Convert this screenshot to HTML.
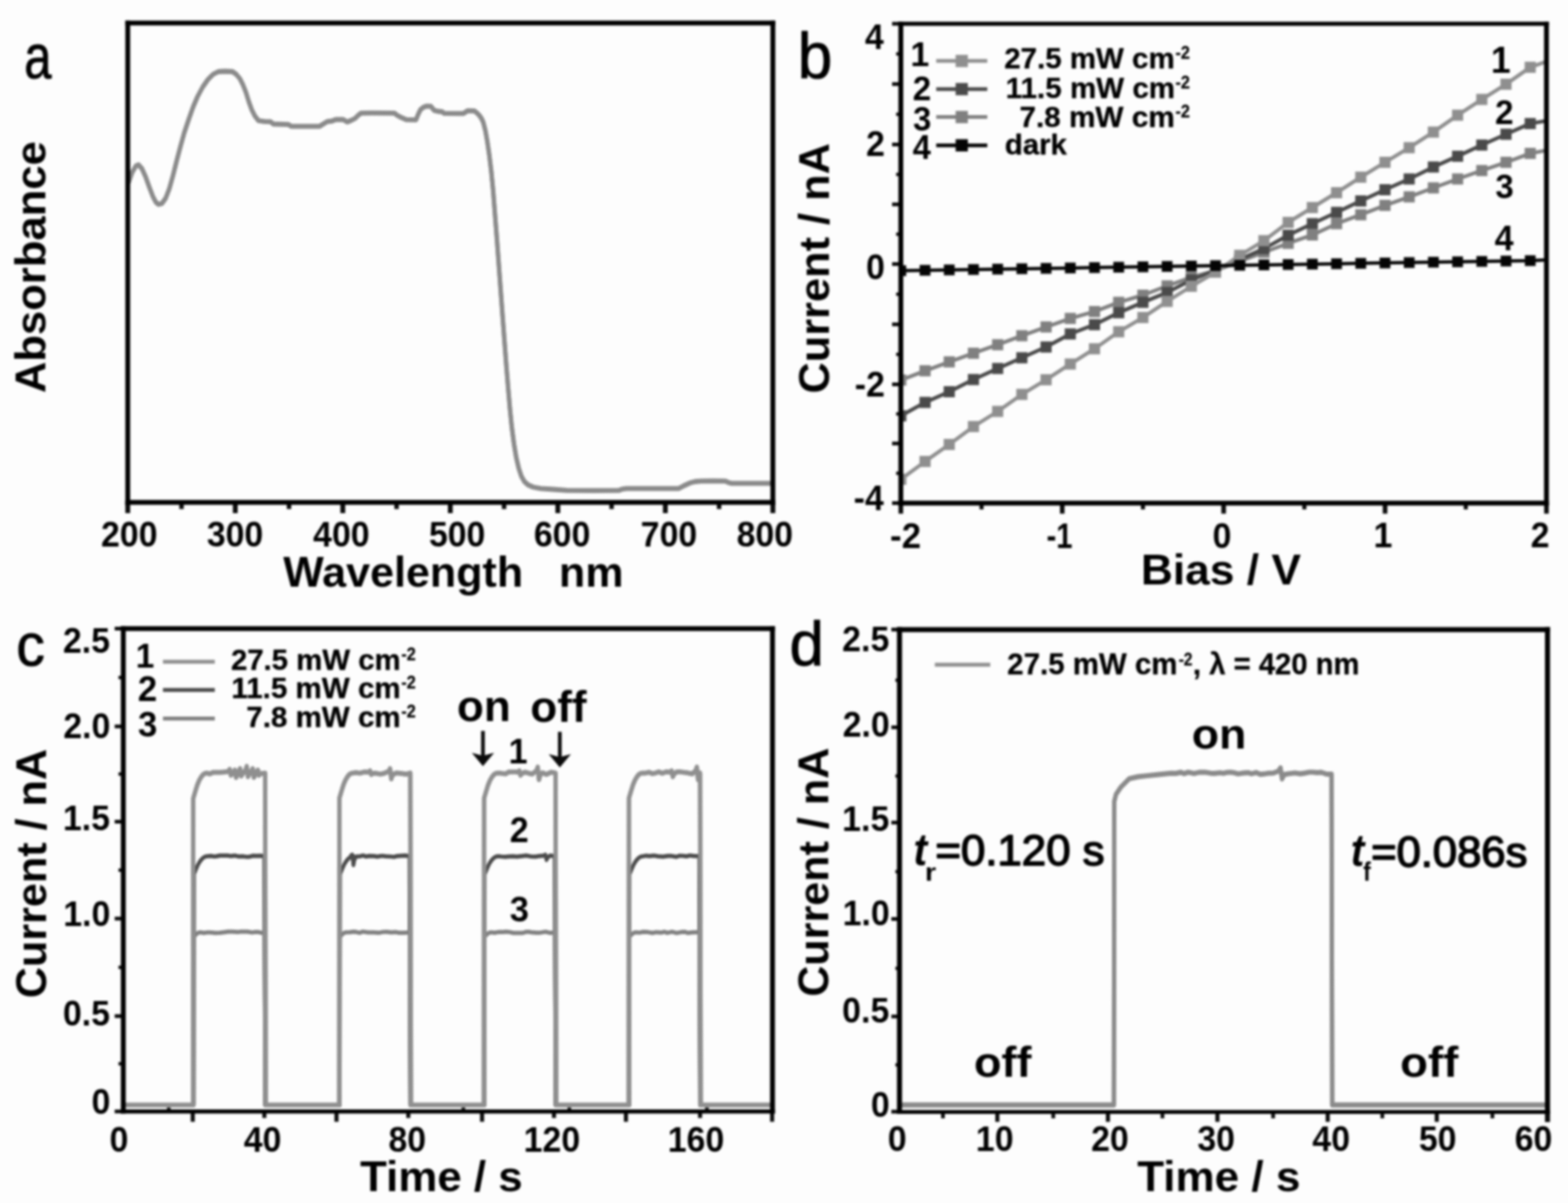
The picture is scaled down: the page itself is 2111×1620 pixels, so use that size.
<!DOCTYPE html>
<html lang="en">
<head>
<meta charset="utf-8">
<title>Figure: absorbance and photocurrent response</title>
<style>
html,body{margin:0;padding:0;background:#fdfdfd;}
body{width:2111px;height:1620px;overflow:hidden;}
svg{display:block;font-family:"Liberation Sans",sans-serif;}
svg text{white-space:pre;}
</style>
</head>
<body>
<svg width="2111" height="1620" viewBox="0 0 2111 1620">
<defs><filter id="soft" x="-2%" y="-2%" width="104%" height="104%" color-interpolation-filters="sRGB"><feGaussianBlur stdDeviation="1.4"/></filter></defs>
<rect x="0" y="0" width="2111" height="1620" fill="#fdfdfd"/>
<g filter="url(#soft)">
<g id="panel-a">
<line x1="172.00" y1="676.50" x2="172.00" y2="691.00" stroke="#0a0a0a" stroke-width="6.50" stroke-linecap="butt"/>
<line x1="316.75" y1="676.50" x2="316.75" y2="691.00" stroke="#0a0a0a" stroke-width="6.50" stroke-linecap="butt"/>
<line x1="461.50" y1="676.50" x2="461.50" y2="691.00" stroke="#0a0a0a" stroke-width="6.50" stroke-linecap="butt"/>
<line x1="606.25" y1="676.50" x2="606.25" y2="691.00" stroke="#0a0a0a" stroke-width="6.50" stroke-linecap="butt"/>
<line x1="751.00" y1="676.50" x2="751.00" y2="691.00" stroke="#0a0a0a" stroke-width="6.50" stroke-linecap="butt"/>
<line x1="895.75" y1="676.50" x2="895.75" y2="691.00" stroke="#0a0a0a" stroke-width="6.50" stroke-linecap="butt"/>
<line x1="1040.50" y1="676.50" x2="1040.50" y2="691.00" stroke="#0a0a0a" stroke-width="6.50" stroke-linecap="butt"/>
<line x1="244.38" y1="676.50" x2="244.38" y2="685.50" stroke="#0a0a0a" stroke-width="6.00" stroke-linecap="butt"/>
<line x1="389.12" y1="676.50" x2="389.12" y2="685.50" stroke="#0a0a0a" stroke-width="6.00" stroke-linecap="butt"/>
<line x1="533.88" y1="676.50" x2="533.88" y2="685.50" stroke="#0a0a0a" stroke-width="6.00" stroke-linecap="butt"/>
<line x1="678.62" y1="676.50" x2="678.62" y2="685.50" stroke="#0a0a0a" stroke-width="6.00" stroke-linecap="butt"/>
<line x1="823.38" y1="676.50" x2="823.38" y2="685.50" stroke="#0a0a0a" stroke-width="6.00" stroke-linecap="butt"/>
<line x1="968.12" y1="676.50" x2="968.12" y2="685.50" stroke="#0a0a0a" stroke-width="6.00" stroke-linecap="butt"/>
<polyline transform="translate(0 -0.50)" points="173.0,246.0 178.0,232.0 183.0,223.5 186.5,222.0 191.0,227.0 196.0,238.0 201.0,252.0 206.0,265.0 210.0,272.5 213.4,275.2 218.0,274.0 223.0,267.0 228.0,254.0 233.0,236.0 238.0,216.0 243.0,197.0 248.0,179.0 254.0,161.0 260.0,144.0 266.0,130.0 273.0,117.0 280.0,107.0 287.0,100.0 294.0,96.5 303.0,96.0 313.0,96.5 318.0,100.0 323.0,106.0 327.0,114.0 331.0,124.0 335.0,137.0 339.0,148.0 343.0,156.0 348.0,162.5 356.0,163.6 364.0,163.8 368.0,167.0 388.0,167.6 392.0,170.0 430.0,170.2 436.0,166.5 441.0,163.6 447.0,163.0 452.0,161.0 462.0,161.0 467.5,164.2 473.0,162.0 478.0,159.5 482.0,155.5 486.0,152.4 500.0,152.2 531.0,152.4 535.0,155.5 539.5,157.8 547.0,161.2 560.0,161.3 563.0,154.0 566.0,147.8 570.0,144.5 574.0,143.0 580.0,143.2 584.5,148.6 590.0,150.0 595.0,150.4 598.0,152.6 624.0,152.8 629.5,149.2 638.8,149.4 642.0,152.0 645.4,155.5 648.5,160.0 650.7,165.0 653.5,176.0 656.0,190.0 658.7,208.5 661.3,229.8 664.0,257.6 666.5,290.0 669.0,322.0 671.5,356.0 674.0,390.0 676.5,424.0 679.0,457.0 681.5,490.0 684.0,521.0 686.5,550.0 689.0,575.0 692.0,598.0 695.0,616.0 698.5,631.0 702.0,641.5 706.0,648.5 711.0,653.0 718.0,656.0 728.1,657.8 745.0,659.0 763.2,660.3 800.0,660.6 833.5,660.3 838.0,658.6 843.6,657.8 880.0,657.8 913.9,657.8 921.0,654.0 929.0,650.3 936.0,648.5 944.0,647.8 960.0,647.6 976.7,647.8 980.0,649.5 984.2,650.8 1010.0,650.8 1039.4,650.8" fill="none" stroke="#8a8a8a" stroke-width="5.80" stroke-linejoin="round" stroke-linecap="butt"/>
<polyline transform="translate(0 0.50)" points="173.0,246.0 178.0,232.0 183.0,223.5 186.5,222.0 191.0,227.0 196.0,238.0 201.0,252.0 206.0,265.0 210.0,272.5 213.4,275.2 218.0,274.0 223.0,267.0 228.0,254.0 233.0,236.0 238.0,216.0 243.0,197.0 248.0,179.0 254.0,161.0 260.0,144.0 266.0,130.0 273.0,117.0 280.0,107.0 287.0,100.0 294.0,96.5 303.0,96.0 313.0,96.5 318.0,100.0 323.0,106.0 327.0,114.0 331.0,124.0 335.0,137.0 339.0,148.0 343.0,156.0 348.0,162.5 356.0,163.6 364.0,163.8 368.0,167.0 388.0,167.6 392.0,170.0 430.0,170.2 436.0,166.5 441.0,163.6 447.0,163.0 452.0,161.0 462.0,161.0 467.5,164.2 473.0,162.0 478.0,159.5 482.0,155.5 486.0,152.4 500.0,152.2 531.0,152.4 535.0,155.5 539.5,157.8 547.0,161.2 560.0,161.3 563.0,154.0 566.0,147.8 570.0,144.5 574.0,143.0 580.0,143.2 584.5,148.6 590.0,150.0 595.0,150.4 598.0,152.6 624.0,152.8 629.5,149.2 638.8,149.4 642.0,152.0 645.4,155.5 648.5,160.0 650.7,165.0 653.5,176.0 656.0,190.0 658.7,208.5 661.3,229.8 664.0,257.6 666.5,290.0 669.0,322.0 671.5,356.0 674.0,390.0 676.5,424.0 679.0,457.0 681.5,490.0 684.0,521.0 686.5,550.0 689.0,575.0 692.0,598.0 695.0,616.0 698.5,631.0 702.0,641.5 706.0,648.5 711.0,653.0 718.0,656.0 728.1,657.8 745.0,659.0 763.2,660.3 800.0,660.6 833.5,660.3 838.0,658.6 843.6,657.8 880.0,657.8 913.9,657.8 921.0,654.0 929.0,650.3 936.0,648.5 944.0,647.8 960.0,647.6 976.7,647.8 980.0,649.5 984.2,650.8 1010.0,650.8 1039.4,650.8" fill="none" stroke="#8a8a8a" stroke-width="5.80" stroke-linejoin="round" stroke-linecap="butt"/>
<line x1="168.75" y1="31.00" x2="1043.75" y2="31.00" stroke="#000" stroke-width="6.50" stroke-linecap="butt"/>
<line x1="168.75" y1="676.50" x2="1043.75" y2="676.50" stroke="#000" stroke-width="6.50" stroke-linecap="butt"/>
<line x1="172.00" y1="27.75" x2="172.00" y2="679.75" stroke="#000" stroke-width="6.50" stroke-linecap="butt"/>
<line x1="1040.50" y1="27.75" x2="1040.50" y2="679.75" stroke="#000" stroke-width="6.50" stroke-linecap="butt"/>
<text transform="translate(136.00 735.60) scale(0.9500 1)" style="font-size:48.00px;font-weight:700" fill="#000">200</text>
<text transform="translate(278.38 735.60) scale(0.9500 1)" style="font-size:48.00px;font-weight:700" fill="#000">300</text>
<text transform="translate(421.55 735.60) scale(0.9500 1)" style="font-size:48.00px;font-weight:700" fill="#000">400</text>
<text transform="translate(577.41 735.60) scale(0.9500 1)" style="font-size:48.00px;font-weight:700" fill="#000">500</text>
<text transform="translate(718.74 735.60) scale(0.9500 1)" style="font-size:48.00px;font-weight:700" fill="#000">600</text>
<text transform="translate(862.62 735.60) scale(0.9500 1)" style="font-size:48.00px;font-weight:700" fill="#000">700</text>
<text transform="translate(991.65 735.60) scale(0.9500 1)" style="font-size:48.00px;font-weight:700" fill="#000">800</text>
<text transform="translate(381.30 789.50) scale(0.9990 1)" style="font-size:58.00px;font-weight:700" fill="#000">Wavelength   nm</text>
<text transform="translate(60.50 529.37) rotate(-90) scale(1.0122 1)" style="font-size:58.00px;font-weight:700" fill="#000">Absorbance</text>
<text transform="translate(32.81 104.67) scale(0.7950 1)" style="font-size:82.56px;font-weight:400" fill="#000" stroke="#000" stroke-width="1.20" stroke-linejoin="round">a</text>
</g>
<g id="panel-b">
<line x1="1201.00" y1="32.00" x2="1212.80" y2="32.00" stroke="#0a0a0a" stroke-width="5.00" stroke-linecap="butt"/>
<line x1="1201.00" y1="113.20" x2="1212.80" y2="113.20" stroke="#0a0a0a" stroke-width="5.00" stroke-linecap="butt"/>
<line x1="1201.00" y1="194.60" x2="1212.80" y2="194.60" stroke="#0a0a0a" stroke-width="5.00" stroke-linecap="butt"/>
<line x1="1201.00" y1="275.20" x2="1212.80" y2="275.20" stroke="#0a0a0a" stroke-width="5.00" stroke-linecap="butt"/>
<line x1="1201.00" y1="355.60" x2="1212.80" y2="355.60" stroke="#0a0a0a" stroke-width="5.00" stroke-linecap="butt"/>
<line x1="1201.00" y1="436.80" x2="1212.80" y2="436.80" stroke="#0a0a0a" stroke-width="5.00" stroke-linecap="butt"/>
<line x1="1201.00" y1="517.60" x2="1212.80" y2="517.60" stroke="#0a0a0a" stroke-width="5.00" stroke-linecap="butt"/>
<line x1="1201.00" y1="597.20" x2="1212.80" y2="597.20" stroke="#0a0a0a" stroke-width="5.00" stroke-linecap="butt"/>
<line x1="1201.00" y1="677.50" x2="1212.80" y2="677.50" stroke="#0a0a0a" stroke-width="5.00" stroke-linecap="butt"/>
<line x1="1206.50" y1="637.35" x2="1212.80" y2="637.35" stroke="#0a0a0a" stroke-width="4.50" stroke-linecap="butt"/>
<line x1="1206.50" y1="557.40" x2="1212.80" y2="557.40" stroke="#0a0a0a" stroke-width="4.50" stroke-linecap="butt"/>
<line x1="1206.50" y1="477.20" x2="1212.80" y2="477.20" stroke="#0a0a0a" stroke-width="4.50" stroke-linecap="butt"/>
<line x1="1206.50" y1="396.20" x2="1212.80" y2="396.20" stroke="#0a0a0a" stroke-width="4.50" stroke-linecap="butt"/>
<line x1="1206.50" y1="315.40" x2="1212.80" y2="315.40" stroke="#0a0a0a" stroke-width="4.50" stroke-linecap="butt"/>
<line x1="1206.50" y1="234.90" x2="1212.80" y2="234.90" stroke="#0a0a0a" stroke-width="4.50" stroke-linecap="butt"/>
<line x1="1206.50" y1="153.90" x2="1212.80" y2="153.90" stroke="#0a0a0a" stroke-width="4.50" stroke-linecap="butt"/>
<line x1="1206.50" y1="72.60" x2="1212.80" y2="72.60" stroke="#0a0a0a" stroke-width="4.50" stroke-linecap="butt"/>
<line x1="1212.80" y1="677.50" x2="1212.80" y2="691.70" stroke="#0a0a0a" stroke-width="6.20" stroke-linecap="butt"/>
<line x1="1430.10" y1="677.50" x2="1430.10" y2="691.70" stroke="#0a0a0a" stroke-width="6.20" stroke-linecap="butt"/>
<line x1="1647.40" y1="677.50" x2="1647.40" y2="691.70" stroke="#0a0a0a" stroke-width="6.20" stroke-linecap="butt"/>
<line x1="1864.70" y1="677.50" x2="1864.70" y2="691.70" stroke="#0a0a0a" stroke-width="6.20" stroke-linecap="butt"/>
<line x1="2082.00" y1="677.50" x2="2082.00" y2="691.70" stroke="#0a0a0a" stroke-width="6.20" stroke-linecap="butt"/>
<line x1="1321.45" y1="677.50" x2="1321.45" y2="686.00" stroke="#0a0a0a" stroke-width="5.50" stroke-linecap="butt"/>
<line x1="1538.75" y1="677.50" x2="1538.75" y2="686.00" stroke="#0a0a0a" stroke-width="5.50" stroke-linecap="butt"/>
<line x1="1756.05" y1="677.50" x2="1756.05" y2="686.00" stroke="#0a0a0a" stroke-width="5.50" stroke-linecap="butt"/>
<line x1="1973.35" y1="677.50" x2="1973.35" y2="686.00" stroke="#0a0a0a" stroke-width="5.50" stroke-linecap="butt"/>
<clipPath id="clipb"><rect x="1212.8" y="32.0" width="869.2" height="645.5"/></clipPath><g clip-path="url(#clipb)">
<polyline points="1212.8,511.8 1245.4,499.3 1278.0,487.3 1310.6,475.7 1343.2,464.2 1375.8,452.1 1408.3,440.3 1440.9,428.8 1473.5,419.6 1506.1,407.1 1538.7,397.5 1571.3,385.0 1603.9,373.4 1636.5,364.5 1669.1,352.0 1701.7,339.7 1734.2,327.7 1766.8,316.4 1799.4,301.2 1832.0,289.2 1864.6,276.6 1897.2,265.1 1929.8,253.0 1962.4,241.0 1995.0,229.7 2027.6,218.6 2060.1,206.6 2082.0,202.5" fill="none" stroke="#808080" stroke-width="5.00" stroke-linejoin="round" stroke-linecap="butt"/>
<rect x="1205.30" y="504.30" width="15.00" height="15.00" fill="#808080"/>
<rect x="1237.89" y="491.80" width="15.00" height="15.00" fill="#808080"/>
<rect x="1270.48" y="479.80" width="15.00" height="15.00" fill="#808080"/>
<rect x="1303.07" y="468.20" width="15.00" height="15.00" fill="#808080"/>
<rect x="1335.66" y="456.70" width="15.00" height="15.00" fill="#808080"/>
<rect x="1368.25" y="444.60" width="15.00" height="15.00" fill="#808080"/>
<rect x="1400.84" y="432.80" width="15.00" height="15.00" fill="#808080"/>
<rect x="1433.43" y="421.30" width="15.00" height="15.00" fill="#808080"/>
<rect x="1466.02" y="412.10" width="15.00" height="15.00" fill="#808080"/>
<rect x="1498.61" y="399.60" width="15.00" height="15.00" fill="#808080"/>
<rect x="1531.20" y="390.00" width="15.00" height="15.00" fill="#808080"/>
<rect x="1563.79" y="377.50" width="15.00" height="15.00" fill="#808080"/>
<rect x="1596.38" y="365.90" width="15.00" height="15.00" fill="#808080"/>
<rect x="1628.97" y="357.00" width="15.00" height="15.00" fill="#808080"/>
<rect x="1661.56" y="344.50" width="15.00" height="15.00" fill="#808080"/>
<rect x="1694.15" y="332.20" width="15.00" height="15.00" fill="#808080"/>
<rect x="1726.74" y="320.20" width="15.00" height="15.00" fill="#808080"/>
<rect x="1759.33" y="308.90" width="15.00" height="15.00" fill="#808080"/>
<rect x="1791.92" y="293.70" width="15.00" height="15.00" fill="#808080"/>
<rect x="1824.51" y="281.70" width="15.00" height="15.00" fill="#808080"/>
<rect x="1857.10" y="269.10" width="15.00" height="15.00" fill="#808080"/>
<rect x="1889.69" y="257.60" width="15.00" height="15.00" fill="#808080"/>
<rect x="1922.28" y="245.50" width="15.00" height="15.00" fill="#808080"/>
<rect x="1954.87" y="233.50" width="15.00" height="15.00" fill="#808080"/>
<rect x="1987.46" y="222.20" width="15.00" height="15.00" fill="#808080"/>
<rect x="2020.05" y="211.10" width="15.00" height="15.00" fill="#808080"/>
<rect x="2052.64" y="199.10" width="15.00" height="15.00" fill="#808080"/>
<polyline points="1212.8,560.0 1245.4,541.9 1278.0,527.5 1310.6,511.1 1343.2,496.2 1375.8,481.8 1408.3,467.3 1440.9,449.7 1473.5,437.2 1506.1,421.1 1538.7,407.1 1571.3,393.9 1603.9,377.0 1636.5,363.8 1669.1,349.5 1701.7,334.9 1734.2,316.8 1766.8,301.2 1799.4,286.0 1832.0,270.6 1864.6,255.5 1897.2,241.0 1929.8,224.9 1962.4,210.4 1995.0,195.3 2027.6,180.8 2060.1,166.4 2082.0,162.8" fill="none" stroke="#4a4a4a" stroke-width="5.00" stroke-linejoin="round" stroke-linecap="butt"/>
<rect x="1205.30" y="552.50" width="15.00" height="15.00" fill="#4a4a4a"/>
<rect x="1237.89" y="534.40" width="15.00" height="15.00" fill="#4a4a4a"/>
<rect x="1270.48" y="520.00" width="15.00" height="15.00" fill="#4a4a4a"/>
<rect x="1303.07" y="503.60" width="15.00" height="15.00" fill="#4a4a4a"/>
<rect x="1335.66" y="488.70" width="15.00" height="15.00" fill="#4a4a4a"/>
<rect x="1368.25" y="474.30" width="15.00" height="15.00" fill="#4a4a4a"/>
<rect x="1400.84" y="459.80" width="15.00" height="15.00" fill="#4a4a4a"/>
<rect x="1433.43" y="442.20" width="15.00" height="15.00" fill="#4a4a4a"/>
<rect x="1466.02" y="429.70" width="15.00" height="15.00" fill="#4a4a4a"/>
<rect x="1498.61" y="413.60" width="15.00" height="15.00" fill="#4a4a4a"/>
<rect x="1531.20" y="399.60" width="15.00" height="15.00" fill="#4a4a4a"/>
<rect x="1563.79" y="386.40" width="15.00" height="15.00" fill="#4a4a4a"/>
<rect x="1596.38" y="369.50" width="15.00" height="15.00" fill="#4a4a4a"/>
<rect x="1628.97" y="356.30" width="15.00" height="15.00" fill="#4a4a4a"/>
<rect x="1661.56" y="342.00" width="15.00" height="15.00" fill="#4a4a4a"/>
<rect x="1694.15" y="327.40" width="15.00" height="15.00" fill="#4a4a4a"/>
<rect x="1726.74" y="309.30" width="15.00" height="15.00" fill="#4a4a4a"/>
<rect x="1759.33" y="293.70" width="15.00" height="15.00" fill="#4a4a4a"/>
<rect x="1791.92" y="278.50" width="15.00" height="15.00" fill="#4a4a4a"/>
<rect x="1824.51" y="263.10" width="15.00" height="15.00" fill="#4a4a4a"/>
<rect x="1857.10" y="248.00" width="15.00" height="15.00" fill="#4a4a4a"/>
<rect x="1889.69" y="233.50" width="15.00" height="15.00" fill="#4a4a4a"/>
<rect x="1922.28" y="217.40" width="15.00" height="15.00" fill="#4a4a4a"/>
<rect x="1954.87" y="202.90" width="15.00" height="15.00" fill="#4a4a4a"/>
<rect x="1987.46" y="187.80" width="15.00" height="15.00" fill="#4a4a4a"/>
<rect x="2020.05" y="173.30" width="15.00" height="15.00" fill="#4a4a4a"/>
<rect x="2052.64" y="158.90" width="15.00" height="15.00" fill="#4a4a4a"/>
<polyline points="1212.8,645.4 1245.4,621.4 1278.0,598.5 1310.6,574.4 1343.2,554.0 1375.8,531.1 1408.3,511.4 1440.9,490.2 1473.5,469.7 1506.1,446.8 1538.7,427.6 1571.3,405.9 1603.9,385.5 1636.5,366.5 1669.1,343.8 1701.7,324.1 1734.2,299.5 1766.8,279.5 1799.4,259.5 1832.0,238.6 1864.6,218.6 1897.2,198.9 1929.8,177.9 1962.4,155.1 1995.0,133.9 2027.6,113.4 2060.1,90.6 2082.0,82.9" fill="none" stroke="#8f8f8f" stroke-width="5.00" stroke-linejoin="round" stroke-linecap="butt"/>
<rect x="1205.30" y="637.90" width="15.00" height="15.00" fill="#8f8f8f"/>
<rect x="1237.89" y="613.90" width="15.00" height="15.00" fill="#8f8f8f"/>
<rect x="1270.48" y="591.00" width="15.00" height="15.00" fill="#8f8f8f"/>
<rect x="1303.07" y="566.90" width="15.00" height="15.00" fill="#8f8f8f"/>
<rect x="1335.66" y="546.50" width="15.00" height="15.00" fill="#8f8f8f"/>
<rect x="1368.25" y="523.60" width="15.00" height="15.00" fill="#8f8f8f"/>
<rect x="1400.84" y="503.90" width="15.00" height="15.00" fill="#8f8f8f"/>
<rect x="1433.43" y="482.70" width="15.00" height="15.00" fill="#8f8f8f"/>
<rect x="1466.02" y="462.20" width="15.00" height="15.00" fill="#8f8f8f"/>
<rect x="1498.61" y="439.30" width="15.00" height="15.00" fill="#8f8f8f"/>
<rect x="1531.20" y="420.10" width="15.00" height="15.00" fill="#8f8f8f"/>
<rect x="1563.79" y="398.40" width="15.00" height="15.00" fill="#8f8f8f"/>
<rect x="1596.38" y="378.00" width="15.00" height="15.00" fill="#8f8f8f"/>
<rect x="1628.97" y="359.00" width="15.00" height="15.00" fill="#8f8f8f"/>
<rect x="1661.56" y="336.30" width="15.00" height="15.00" fill="#8f8f8f"/>
<rect x="1694.15" y="316.60" width="15.00" height="15.00" fill="#8f8f8f"/>
<rect x="1726.74" y="292.00" width="15.00" height="15.00" fill="#8f8f8f"/>
<rect x="1759.33" y="272.00" width="15.00" height="15.00" fill="#8f8f8f"/>
<rect x="1791.92" y="252.00" width="15.00" height="15.00" fill="#8f8f8f"/>
<rect x="1824.51" y="231.10" width="15.00" height="15.00" fill="#8f8f8f"/>
<rect x="1857.10" y="211.10" width="15.00" height="15.00" fill="#8f8f8f"/>
<rect x="1889.69" y="191.40" width="15.00" height="15.00" fill="#8f8f8f"/>
<rect x="1922.28" y="170.40" width="15.00" height="15.00" fill="#8f8f8f"/>
<rect x="1954.87" y="147.60" width="15.00" height="15.00" fill="#8f8f8f"/>
<rect x="1987.46" y="126.40" width="15.00" height="15.00" fill="#8f8f8f"/>
<rect x="2020.05" y="105.90" width="15.00" height="15.00" fill="#8f8f8f"/>
<rect x="2052.64" y="83.10" width="15.00" height="15.00" fill="#8f8f8f"/>
<polyline points="1212.8,364.5 1245.4,364.0 1278.0,363.5 1310.6,362.9 1343.2,362.4 1375.8,361.9 1408.3,361.4 1440.9,360.9 1473.5,360.3 1506.1,359.8 1538.7,359.3 1571.3,358.8 1603.9,358.3 1636.5,357.8 1669.1,357.2 1701.7,356.7 1734.2,356.2 1766.8,355.7 1799.4,355.2 1832.0,354.6 1864.6,354.1 1897.2,353.6 1929.8,353.1 1962.4,352.6 1995.0,352.0 2027.6,351.5 2060.1,351.0 2082.0,350.0" fill="none" stroke="#050505" stroke-width="4.50" stroke-linejoin="round" stroke-linecap="butt"/>
<rect x="1205.55" y="357.25" width="14.50" height="14.50" fill="#050505"/>
<rect x="1238.14" y="356.73" width="14.50" height="14.50" fill="#050505"/>
<rect x="1270.73" y="356.21" width="14.50" height="14.50" fill="#050505"/>
<rect x="1303.32" y="355.69" width="14.50" height="14.50" fill="#050505"/>
<rect x="1335.91" y="355.17" width="14.50" height="14.50" fill="#050505"/>
<rect x="1368.50" y="354.65" width="14.50" height="14.50" fill="#050505"/>
<rect x="1401.09" y="354.13" width="14.50" height="14.50" fill="#050505"/>
<rect x="1433.68" y="353.62" width="14.50" height="14.50" fill="#050505"/>
<rect x="1466.27" y="353.10" width="14.50" height="14.50" fill="#050505"/>
<rect x="1498.86" y="352.58" width="14.50" height="14.50" fill="#050505"/>
<rect x="1531.45" y="352.06" width="14.50" height="14.50" fill="#050505"/>
<rect x="1564.04" y="351.54" width="14.50" height="14.50" fill="#050505"/>
<rect x="1596.63" y="351.02" width="14.50" height="14.50" fill="#050505"/>
<rect x="1629.22" y="350.50" width="14.50" height="14.50" fill="#050505"/>
<rect x="1661.81" y="349.98" width="14.50" height="14.50" fill="#050505"/>
<rect x="1694.40" y="349.46" width="14.50" height="14.50" fill="#050505"/>
<rect x="1726.99" y="348.94" width="14.50" height="14.50" fill="#050505"/>
<rect x="1759.58" y="348.42" width="14.50" height="14.50" fill="#050505"/>
<rect x="1792.17" y="347.90" width="14.50" height="14.50" fill="#050505"/>
<rect x="1824.76" y="347.38" width="14.50" height="14.50" fill="#050505"/>
<rect x="1857.35" y="346.87" width="14.50" height="14.50" fill="#050505"/>
<rect x="1889.94" y="346.35" width="14.50" height="14.50" fill="#050505"/>
<rect x="1922.53" y="345.83" width="14.50" height="14.50" fill="#050505"/>
<rect x="1955.12" y="345.31" width="14.50" height="14.50" fill="#050505"/>
<rect x="1987.71" y="344.79" width="14.50" height="14.50" fill="#050505"/>
<rect x="2020.30" y="344.27" width="14.50" height="14.50" fill="#050505"/>
<rect x="2052.89" y="343.75" width="14.50" height="14.50" fill="#050505"/>
</g>
<line x1="1209.55" y1="32.00" x2="2085.25" y2="32.00" stroke="#000" stroke-width="5.40" stroke-linecap="butt"/>
<line x1="1209.55" y1="677.50" x2="2085.25" y2="677.50" stroke="#000" stroke-width="6.50" stroke-linecap="butt"/>
<line x1="1212.80" y1="29.30" x2="1212.80" y2="680.75" stroke="#000" stroke-width="6.50" stroke-linecap="butt"/>
<line x1="2082.00" y1="29.30" x2="2082.00" y2="680.75" stroke="#000" stroke-width="6.50" stroke-linecap="butt"/>
<text transform="translate(1198.33 738.00) scale(0.9748 1)" style="font-size:48.00px;font-weight:700" fill="#000">-2</text>
<text transform="translate(1408.92 738.00) scale(0.8206 1)" style="font-size:48.00px;font-weight:700" fill="#000">-1</text>
<text transform="translate(1632.55 737.50) scale(0.9500 1)" style="font-size:48.00px;font-weight:700" fill="#000">0</text>
<text transform="translate(1849.15 737.00) scale(0.9500 1)" style="font-size:48.00px;font-weight:700" fill="#000">1</text>
<text transform="translate(2060.70 737.00) scale(0.9500 1)" style="font-size:48.00px;font-weight:700" fill="#000">2</text>
<text transform="translate(1164.42 66.30) scale(0.9500 1)" style="font-size:48.00px;font-weight:700" fill="#000">4</text>
<text transform="translate(1165.90 210.30) scale(0.9500 1)" style="font-size:48.00px;font-weight:700" fill="#000">2</text>
<text transform="translate(1166.02 376.00) scale(0.9500 1)" style="font-size:48.00px;font-weight:700" fill="#000">0</text>
<text transform="translate(1150.74 533.60) scale(0.9500 1)" style="font-size:48.00px;font-weight:700" fill="#000">-2</text>
<text transform="translate(1149.26 687.00) scale(0.9500 1)" style="font-size:48.00px;font-weight:700" fill="#000">-4</text>
<text transform="translate(1535.97 787.00) scale(1.0284 1)" style="font-size:58.00px;font-weight:700" fill="#000">Bias / V</text>
<text transform="translate(1115.80 529.94) rotate(-90) scale(1.0067 1)" style="font-size:58.00px;font-weight:700" fill="#000">Current / nA</text>
<text transform="translate(1074.07 104.63) scale(0.9566 1)" style="font-size:87.35px;font-weight:400" fill="#000" stroke="#000" stroke-width="1.20" stroke-linejoin="round">b</text>
<text transform="translate(1225.71 89.40) scale(0.9700 1)" style="font-size:46.98px;font-weight:700" fill="#000">1</text>
<text transform="translate(1228.78 135.20) scale(0.9700 1)" style="font-size:46.16px;font-weight:700" fill="#000">2</text>
<text transform="translate(1229.18 175.93) scale(0.9700 1)" style="font-size:45.49px;font-weight:700" fill="#000">3</text>
<text transform="translate(1228.81 214.40) scale(0.9700 1)" style="font-size:45.38px;font-weight:700" fill="#000">4</text>
<line x1="1260.40" y1="82.10" x2="1329.20" y2="82.10" stroke="#8f8f8f" stroke-width="5.00" stroke-linecap="butt"/>
<rect x="1286.55" y="73.85" width="16.50" height="16.50" fill="#8f8f8f"/>
<line x1="1260.40" y1="120.00" x2="1329.20" y2="120.00" stroke="#4a4a4a" stroke-width="5.00" stroke-linecap="butt"/>
<rect x="1286.55" y="111.75" width="16.50" height="16.50" fill="#4a4a4a"/>
<line x1="1260.40" y1="157.60" x2="1329.20" y2="157.60" stroke="#808080" stroke-width="5.00" stroke-linecap="butt"/>
<rect x="1286.55" y="149.35" width="16.50" height="16.50" fill="#808080"/>
<line x1="1260.40" y1="195.70" x2="1329.20" y2="195.70" stroke="#050505" stroke-width="5.00" stroke-linecap="butt"/>
<rect x="1286.55" y="187.45" width="16.50" height="16.50" fill="#050505"/>
<text transform="translate(1352.01 91.50) scale(1.0051 1)" style="font-size:39.50px;font-weight:700" fill="#000" stroke="#000" stroke-width="0.40" stroke-linejoin="round">27.5 mW cm</text>
<text transform="translate(1354.01 131.50) scale(1.0086 1)" style="font-size:39.50px;font-weight:700" fill="#000" stroke="#000" stroke-width="0.40" stroke-linejoin="round">11.5 mW cm</text>
<text transform="translate(1372.50 170.70) scale(1.0132 1)" style="font-size:39.50px;font-weight:700" fill="#000" stroke="#000" stroke-width="0.40" stroke-linejoin="round">7.8 mW cm</text>
<text transform="translate(1352.82 208.20) scale(1.0017 1)" style="font-size:39.50px;font-weight:700" fill="#000" stroke="#000" stroke-width="0.40" stroke-linejoin="round">dark</text>
<text transform="translate(1582.47 79.25) scale(0.9070 1)" style="font-size:24.23px;font-weight:700" fill="#000" stroke="#000" stroke-width="0.30" stroke-linejoin="round">-2</text>
<text transform="translate(1582.47 119.05) scale(0.9070 1)" style="font-size:24.23px;font-weight:700" fill="#000" stroke="#000" stroke-width="0.30" stroke-linejoin="round">-2</text>
<text transform="translate(1582.47 158.25) scale(0.9070 1)" style="font-size:24.23px;font-weight:700" fill="#000" stroke="#000" stroke-width="0.30" stroke-linejoin="round">-2</text>
<text transform="translate(2007.13 97.80) scale(0.9700 1)" style="font-size:49.16px;font-weight:700" fill="#000">1</text>
<text transform="translate(2012.74 167.30) scale(0.9700 1)" style="font-size:46.31px;font-weight:700" fill="#000">2</text>
<text transform="translate(2013.21 266.93) scale(0.9700 1)" style="font-size:45.77px;font-weight:700" fill="#000">3</text>
<text transform="translate(2012.30 337.30) scale(0.9700 1)" style="font-size:47.27px;font-weight:700" fill="#000">4</text>
</g>
<g id="panel-c">
<line x1="154.40" y1="846.50" x2="166.00" y2="846.50" stroke="#0a0a0a" stroke-width="5.00" stroke-linecap="butt"/>
<line x1="154.40" y1="978.20" x2="166.00" y2="978.20" stroke="#0a0a0a" stroke-width="5.00" stroke-linecap="butt"/>
<line x1="154.40" y1="1106.50" x2="166.00" y2="1106.50" stroke="#0a0a0a" stroke-width="5.00" stroke-linecap="butt"/>
<line x1="154.40" y1="1237.00" x2="166.00" y2="1237.00" stroke="#0a0a0a" stroke-width="5.00" stroke-linecap="butt"/>
<line x1="154.40" y1="1368.30" x2="166.00" y2="1368.30" stroke="#0a0a0a" stroke-width="5.00" stroke-linecap="butt"/>
<line x1="154.40" y1="1496.70" x2="166.00" y2="1496.70" stroke="#0a0a0a" stroke-width="5.00" stroke-linecap="butt"/>
<line x1="159.50" y1="912.35" x2="166.00" y2="912.35" stroke="#0a0a0a" stroke-width="4.50" stroke-linecap="butt"/>
<line x1="159.50" y1="1042.35" x2="166.00" y2="1042.35" stroke="#0a0a0a" stroke-width="4.50" stroke-linecap="butt"/>
<line x1="159.50" y1="1171.75" x2="166.00" y2="1171.75" stroke="#0a0a0a" stroke-width="4.50" stroke-linecap="butt"/>
<line x1="159.50" y1="1302.65" x2="166.00" y2="1302.65" stroke="#0a0a0a" stroke-width="4.50" stroke-linecap="butt"/>
<line x1="159.50" y1="1432.50" x2="166.00" y2="1432.50" stroke="#0a0a0a" stroke-width="4.50" stroke-linecap="butt"/>
<line x1="259.50" y1="1496.70" x2="259.50" y2="1510.60" stroke="#0a0a0a" stroke-width="5.50" stroke-linecap="butt"/>
<line x1="355.90" y1="1496.70" x2="355.90" y2="1505.50" stroke="#0a0a0a" stroke-width="5.50" stroke-linecap="butt"/>
<line x1="453.00" y1="1496.70" x2="453.00" y2="1510.60" stroke="#0a0a0a" stroke-width="5.50" stroke-linecap="butt"/>
<line x1="549.70" y1="1496.70" x2="549.70" y2="1505.50" stroke="#0a0a0a" stroke-width="5.50" stroke-linecap="butt"/>
<line x1="649.00" y1="1496.70" x2="649.00" y2="1510.60" stroke="#0a0a0a" stroke-width="5.50" stroke-linecap="butt"/>
<line x1="745.80" y1="1496.70" x2="745.80" y2="1505.50" stroke="#0a0a0a" stroke-width="5.50" stroke-linecap="butt"/>
<line x1="842.70" y1="1496.70" x2="842.70" y2="1510.60" stroke="#0a0a0a" stroke-width="5.50" stroke-linecap="butt"/>
<line x1="942.50" y1="1496.70" x2="942.50" y2="1505.50" stroke="#0a0a0a" stroke-width="5.50" stroke-linecap="butt"/>
<line x1="1039.50" y1="1496.70" x2="1039.50" y2="1510.60" stroke="#0a0a0a" stroke-width="5.50" stroke-linecap="butt"/>
<polyline transform="translate(0 -0.50)" points="166.0,1488.0 260.9,1488.0 261.2,1177.0 264.1,1170.1 266.6,1164.4 269.2,1160.0 271.8,1156.7 274.4,1154.5 276.9,1153.3 279.5,1153.0 283.5,1152.6 287.5,1153.3 291.3,1153.1 296.1,1152.1 301.3,1152.1 306.4,1152.1 310.2,1152.8 316.6,1152.2 320.8,1153.3 327.7,1153.2 332.6,1154.0 336.2,1153.7 340.7,1152.3 344.6,1152.6 351.0,1152.4 355.7,1153.0 356.7,1488.0 457.6,1488.0 457.9,1177.0 460.8,1170.1 463.3,1164.4 465.9,1160.0 468.5,1156.7 471.1,1154.5 473.6,1153.3 476.2,1153.0 472.5,1152.2 474.2,1151.0 475.8,1165.0 477.5,1156.6 480.2,1153.3 485.0,1153.1 488.7,1152.1 492.9,1153.4 497.9,1152.6 503.5,1152.9 508.0,1153.6 514.0,1152.5 519.5,1153.1 526.1,1153.5 530.6,1154.0 534.5,1152.8 540.6,1152.3 545.8,1152.1 551.2,1153.0 552.2,1488.0 652.4,1488.0 652.7,1177.0 655.6,1170.1 658.1,1164.4 660.7,1160.0 663.3,1156.7 665.9,1154.5 668.4,1153.3 671.0,1153.0 675.0,1153.5 680.5,1153.8 685.1,1153.4 690.7,1153.2 695.8,1153.7 702.6,1152.9 708.4,1152.1 714.4,1153.3 721.3,1153.6 725.8,1152.8 732.5,1152.2 734.2,1151.0 735.8,1158.0 737.5,1154.5 740.7,1152.1 746.7,1153.0 747.7,1488.0 847.4,1488.0 847.7,1177.0 850.6,1170.1 853.1,1164.4 855.7,1160.0 858.3,1156.7 860.9,1154.5 863.4,1153.3 866.0,1153.0 870.0,1152.3 874.4,1152.8 880.9,1152.2 886.0,1153.1 892.6,1153.6 899.1,1152.6 904.1,1152.7 910.7,1153.9 914.7,1152.4 919.0,1152.5 924.2,1153.2 928.6,1152.0 933.6,1152.7 941.3,1153.0 942.3,1488.0 1040.0,1488.0" fill="none" stroke="#4a4a4a" stroke-width="4.70" stroke-linejoin="round" stroke-linecap="butt"/>
<polyline transform="translate(0 0.50)" points="166.0,1488.0 260.9,1488.0 261.2,1177.0 264.1,1170.1 266.6,1164.4 269.2,1160.0 271.8,1156.7 274.4,1154.5 276.9,1153.3 279.5,1153.0 283.5,1152.6 287.5,1153.3 291.3,1153.1 296.1,1152.1 301.3,1152.1 306.4,1152.1 310.2,1152.8 316.6,1152.2 320.8,1153.3 327.7,1153.2 332.6,1154.0 336.2,1153.7 340.7,1152.3 344.6,1152.6 351.0,1152.4 355.7,1153.0 356.7,1488.0 457.6,1488.0 457.9,1177.0 460.8,1170.1 463.3,1164.4 465.9,1160.0 468.5,1156.7 471.1,1154.5 473.6,1153.3 476.2,1153.0 472.5,1152.2 474.2,1151.0 475.8,1165.0 477.5,1156.6 480.2,1153.3 485.0,1153.1 488.7,1152.1 492.9,1153.4 497.9,1152.6 503.5,1152.9 508.0,1153.6 514.0,1152.5 519.5,1153.1 526.1,1153.5 530.6,1154.0 534.5,1152.8 540.6,1152.3 545.8,1152.1 551.2,1153.0 552.2,1488.0 652.4,1488.0 652.7,1177.0 655.6,1170.1 658.1,1164.4 660.7,1160.0 663.3,1156.7 665.9,1154.5 668.4,1153.3 671.0,1153.0 675.0,1153.5 680.5,1153.8 685.1,1153.4 690.7,1153.2 695.8,1153.7 702.6,1152.9 708.4,1152.1 714.4,1153.3 721.3,1153.6 725.8,1152.8 732.5,1152.2 734.2,1151.0 735.8,1158.0 737.5,1154.5 740.7,1152.1 746.7,1153.0 747.7,1488.0 847.4,1488.0 847.7,1177.0 850.6,1170.1 853.1,1164.4 855.7,1160.0 858.3,1156.7 860.9,1154.5 863.4,1153.3 866.0,1153.0 870.0,1152.3 874.4,1152.8 880.9,1152.2 886.0,1153.1 892.6,1153.6 899.1,1152.6 904.1,1152.7 910.7,1153.9 914.7,1152.4 919.0,1152.5 924.2,1153.2 928.6,1152.0 933.6,1152.7 941.3,1153.0 942.3,1488.0 1040.0,1488.0" fill="none" stroke="#4a4a4a" stroke-width="4.70" stroke-linejoin="round" stroke-linecap="butt"/>
<polyline transform="translate(0 -0.50)" points="166.0,1488.0 260.7,1488.0 261.0,1261.5 262.6,1259.8 263.9,1258.4 265.2,1257.3 266.4,1256.4 267.7,1255.9 269.0,1255.6 270.3,1255.5 274.3,1256.4 280.2,1255.5 285.9,1255.9 289.6,1256.3 295.8,1256.2 302.1,1255.3 307.0,1254.7 312.7,1254.6 316.4,1254.9 320.5,1255.2 324.2,1254.5 328.2,1254.7 333.0,1254.6 339.6,1255.7 343.6,1255.0 348.3,1255.2 352.2,1256.2 355.9,1255.5 356.9,1488.0 457.4,1488.0 457.7,1261.5 459.3,1259.8 460.6,1258.4 461.9,1257.3 463.1,1256.4 464.4,1255.9 465.7,1255.6 467.0,1255.5 471.0,1255.4 476.2,1254.7 480.1,1255.2 484.5,1256.2 488.5,1254.5 495.4,1255.6 499.4,1255.6 503.0,1255.6 509.9,1256.2 515.8,1255.0 520.6,1254.8 526.8,1255.6 533.1,1255.2 537.3,1256.1 544.3,1256.2 551.4,1255.5 552.4,1488.0 652.2,1488.0 652.5,1261.5 654.1,1259.8 655.4,1258.4 656.7,1257.3 657.9,1256.4 659.2,1255.9 660.5,1255.6 661.8,1255.5 665.8,1256.1 671.9,1255.0 677.2,1255.2 680.8,1254.6 685.3,1255.0 691.2,1256.4 696.3,1256.4 703.2,1256.4 708.0,1254.9 712.3,1254.9 716.5,1255.7 723.2,1256.2 728.3,1255.8 734.6,1254.7 740.5,1256.3 746.9,1255.5 747.9,1488.0 847.2,1488.0 847.5,1261.5 849.1,1259.8 850.4,1258.4 851.7,1257.3 852.9,1256.4 854.2,1255.9 855.5,1255.6 856.8,1255.5 860.8,1256.0 866.0,1254.9 872.2,1255.2 878.5,1256.4 883.4,1255.3 890.2,1255.9 894.3,1254.8 898.4,1256.3 904.7,1254.8 911.1,1256.5 916.9,1255.2 922.3,1254.8 925.8,1256.4 931.6,1255.6 938.4,1255.4 941.5,1255.5 942.5,1488.0 1040.0,1488.0" fill="none" stroke="#808080" stroke-width="4.70" stroke-linejoin="round" stroke-linecap="butt"/>
<polyline transform="translate(0 0.50)" points="166.0,1488.0 260.7,1488.0 261.0,1261.5 262.6,1259.8 263.9,1258.4 265.2,1257.3 266.4,1256.4 267.7,1255.9 269.0,1255.6 270.3,1255.5 274.3,1256.4 280.2,1255.5 285.9,1255.9 289.6,1256.3 295.8,1256.2 302.1,1255.3 307.0,1254.7 312.7,1254.6 316.4,1254.9 320.5,1255.2 324.2,1254.5 328.2,1254.7 333.0,1254.6 339.6,1255.7 343.6,1255.0 348.3,1255.2 352.2,1256.2 355.9,1255.5 356.9,1488.0 457.4,1488.0 457.7,1261.5 459.3,1259.8 460.6,1258.4 461.9,1257.3 463.1,1256.4 464.4,1255.9 465.7,1255.6 467.0,1255.5 471.0,1255.4 476.2,1254.7 480.1,1255.2 484.5,1256.2 488.5,1254.5 495.4,1255.6 499.4,1255.6 503.0,1255.6 509.9,1256.2 515.8,1255.0 520.6,1254.8 526.8,1255.6 533.1,1255.2 537.3,1256.1 544.3,1256.2 551.4,1255.5 552.4,1488.0 652.2,1488.0 652.5,1261.5 654.1,1259.8 655.4,1258.4 656.7,1257.3 657.9,1256.4 659.2,1255.9 660.5,1255.6 661.8,1255.5 665.8,1256.1 671.9,1255.0 677.2,1255.2 680.8,1254.6 685.3,1255.0 691.2,1256.4 696.3,1256.4 703.2,1256.4 708.0,1254.9 712.3,1254.9 716.5,1255.7 723.2,1256.2 728.3,1255.8 734.6,1254.7 740.5,1256.3 746.9,1255.5 747.9,1488.0 847.2,1488.0 847.5,1261.5 849.1,1259.8 850.4,1258.4 851.7,1257.3 852.9,1256.4 854.2,1255.9 855.5,1255.6 856.8,1255.5 860.8,1256.0 866.0,1254.9 872.2,1255.2 878.5,1256.4 883.4,1255.3 890.2,1255.9 894.3,1254.8 898.4,1256.3 904.7,1254.8 911.1,1256.5 916.9,1255.2 922.3,1254.8 925.8,1256.4 931.6,1255.6 938.4,1255.4 941.5,1255.5 942.5,1488.0 1040.0,1488.0" fill="none" stroke="#808080" stroke-width="4.70" stroke-linejoin="round" stroke-linecap="butt"/>
<polyline transform="translate(0 -0.50)" points="166.0,1488.0 259.9,1488.0 260.2,1075.0 263.1,1065.2 265.6,1057.2 268.2,1050.9 270.8,1046.3 273.4,1043.2 275.9,1041.5 278.5,1041.0 282.5,1042.2 286.7,1040.1 291.3,1040.1 296.8,1040.1 301.8,1039.7 307.5,1039.0 309.2,1036.0 310.8,1044.0 314.5,1039.4 316.2,1037.0 317.8,1047.0 321.5,1038.6 323.2,1035.0 324.8,1045.0 326.5,1042.2 330.5,1037.4 332.2,1032.0 333.8,1046.0 335.5,1042.5 338.5,1038.6 340.2,1035.0 341.8,1047.0 345.5,1039.4 347.2,1037.0 348.8,1044.0 350.5,1041.9 356.9,1041.0 357.9,1488.0 456.6,1488.0 456.9,1075.0 459.8,1065.2 462.3,1057.2 464.9,1050.9 467.5,1046.3 470.1,1043.2 472.6,1041.5 475.2,1041.0 479.2,1040.4 484.5,1041.2 490.8,1039.6 496.5,1039.8 498.2,1038.0 499.8,1043.0 501.5,1041.6 506.0,1041.2 512.1,1042.5 517.2,1041.4 523.5,1038.6 525.2,1035.0 526.8,1049.0 528.5,1043.4 533.7,1040.9 540.5,1041.7 547.1,1042.6 552.4,1041.0 553.4,1488.0 651.4,1488.0 651.7,1075.0 654.6,1065.2 657.1,1057.2 659.7,1050.9 662.3,1046.3 664.9,1043.2 667.4,1041.5 670.0,1041.0 674.0,1041.2 680.8,1042.2 684.8,1039.6 689.8,1039.5 694.2,1039.5 697.5,1039.8 699.2,1038.0 700.8,1044.0 702.5,1041.9 706.7,1039.8 712.7,1041.6 716.7,1042.4 722.3,1037.8 724.0,1033.0 725.6,1050.0 727.3,1043.7 730.4,1040.6 735.6,1042.8 742.0,1039.8 747.9,1041.0 748.9,1488.0 846.4,1488.0 846.7,1075.0 849.6,1065.2 852.1,1057.2 854.7,1050.9 857.3,1046.3 859.9,1043.2 862.4,1041.5 865.0,1041.0 869.0,1041.1 873.7,1039.9 878.3,1041.8 881.9,1041.2 886.9,1039.3 891.6,1041.4 896.9,1039.4 902.5,1039.8 904.2,1038.0 905.8,1046.0 907.5,1042.5 910.7,1039.6 915.1,1039.3 921.4,1040.2 925.3,1040.7 932.0,1042.1 936.5,1037.8 938.2,1033.0 939.8,1050.0 941.5,1043.7 942.5,1041.0 943.5,1488.0 1040.0,1488.0" fill="none" stroke="#8f8f8f" stroke-width="5.70" stroke-linejoin="round" stroke-linecap="butt"/>
<polyline transform="translate(0 0.50)" points="166.0,1488.0 259.9,1488.0 260.2,1075.0 263.1,1065.2 265.6,1057.2 268.2,1050.9 270.8,1046.3 273.4,1043.2 275.9,1041.5 278.5,1041.0 282.5,1042.2 286.7,1040.1 291.3,1040.1 296.8,1040.1 301.8,1039.7 307.5,1039.0 309.2,1036.0 310.8,1044.0 314.5,1039.4 316.2,1037.0 317.8,1047.0 321.5,1038.6 323.2,1035.0 324.8,1045.0 326.5,1042.2 330.5,1037.4 332.2,1032.0 333.8,1046.0 335.5,1042.5 338.5,1038.6 340.2,1035.0 341.8,1047.0 345.5,1039.4 347.2,1037.0 348.8,1044.0 350.5,1041.9 356.9,1041.0 357.9,1488.0 456.6,1488.0 456.9,1075.0 459.8,1065.2 462.3,1057.2 464.9,1050.9 467.5,1046.3 470.1,1043.2 472.6,1041.5 475.2,1041.0 479.2,1040.4 484.5,1041.2 490.8,1039.6 496.5,1039.8 498.2,1038.0 499.8,1043.0 501.5,1041.6 506.0,1041.2 512.1,1042.5 517.2,1041.4 523.5,1038.6 525.2,1035.0 526.8,1049.0 528.5,1043.4 533.7,1040.9 540.5,1041.7 547.1,1042.6 552.4,1041.0 553.4,1488.0 651.4,1488.0 651.7,1075.0 654.6,1065.2 657.1,1057.2 659.7,1050.9 662.3,1046.3 664.9,1043.2 667.4,1041.5 670.0,1041.0 674.0,1041.2 680.8,1042.2 684.8,1039.6 689.8,1039.5 694.2,1039.5 697.5,1039.8 699.2,1038.0 700.8,1044.0 702.5,1041.9 706.7,1039.8 712.7,1041.6 716.7,1042.4 722.3,1037.8 724.0,1033.0 725.6,1050.0 727.3,1043.7 730.4,1040.6 735.6,1042.8 742.0,1039.8 747.9,1041.0 748.9,1488.0 846.4,1488.0 846.7,1075.0 849.6,1065.2 852.1,1057.2 854.7,1050.9 857.3,1046.3 859.9,1043.2 862.4,1041.5 865.0,1041.0 869.0,1041.1 873.7,1039.9 878.3,1041.8 881.9,1041.2 886.9,1039.3 891.6,1041.4 896.9,1039.4 902.5,1039.8 904.2,1038.0 905.8,1046.0 907.5,1042.5 910.7,1039.6 915.1,1039.3 921.4,1040.2 925.3,1040.7 932.0,1042.1 936.5,1037.8 938.2,1033.0 939.8,1050.0 941.5,1043.7 942.5,1041.0 943.5,1488.0 1040.0,1488.0" fill="none" stroke="#8f8f8f" stroke-width="5.70" stroke-linejoin="round" stroke-linecap="butt"/>
<line x1="162.70" y1="846.50" x2="1043.30" y2="846.50" stroke="#000" stroke-width="6.60" stroke-linecap="butt"/>
<line x1="162.70" y1="1496.70" x2="1043.30" y2="1496.70" stroke="#000" stroke-width="5.40" stroke-linecap="butt"/>
<line x1="166.00" y1="843.20" x2="166.00" y2="1499.40" stroke="#000" stroke-width="6.60" stroke-linecap="butt"/>
<line x1="1040.00" y1="843.20" x2="1040.00" y2="1499.40" stroke="#000" stroke-width="6.60" stroke-linecap="butt"/>
<rect x="224.70" y="1491.50" width="5.00" height="4.00" fill="#0a0a0a"/>
<rect x="621.30" y="1491.50" width="5.00" height="4.00" fill="#0a0a0a"/>
<rect x="764.00" y="1491.50" width="5.00" height="4.00" fill="#0a0a0a"/>
<rect x="949.20" y="1491.50" width="5.00" height="4.00" fill="#0a0a0a"/>
<text transform="translate(84.67 878.70) scale(0.9500 1)" style="font-size:48.00px;font-weight:700" fill="#000">2.5</text>
<text transform="translate(85.24 994.30) scale(0.9500 1)" style="font-size:48.00px;font-weight:700" fill="#000">2.0</text>
<text transform="translate(84.67 1117.50) scale(0.9500 1)" style="font-size:48.00px;font-weight:700" fill="#000">1.5</text>
<text transform="translate(85.24 1247.00) scale(0.9500 1)" style="font-size:48.00px;font-weight:700" fill="#000">1.0</text>
<text transform="translate(84.67 1380.60) scale(0.9500 1)" style="font-size:48.00px;font-weight:700" fill="#000">0.5</text>
<text transform="translate(123.32 1500.00) scale(0.9500 1)" style="font-size:48.00px;font-weight:700" fill="#000">0</text>
<text transform="translate(147.40 1550.50) scale(0.9500 1)" style="font-size:48.00px;font-weight:700" fill="#000">0</text>
<text transform="translate(328.16 1550.50) scale(0.9500 1)" style="font-size:48.00px;font-weight:700" fill="#000">40</text>
<text transform="translate(523.01 1550.50) scale(0.9500 1)" style="font-size:48.00px;font-weight:700" fill="#000">80</text>
<text transform="translate(705.02 1550.50) scale(0.9500 1)" style="font-size:48.00px;font-weight:700" fill="#000">120</text>
<text transform="translate(899.02 1550.50) scale(0.9500 1)" style="font-size:48.00px;font-weight:700" fill="#000">160</text>
<text transform="translate(484.71 1603.80) scale(1.0189 1)" style="font-size:58.00px;font-weight:700" fill="#000">Time / s</text>
<text transform="translate(61.60 1344.33) rotate(-90) scale(1.0025 1)" style="font-size:58.00px;font-weight:700" fill="#000">Current / nA</text>
<text transform="translate(21.95 896.31) scale(0.9674 1)" style="font-size:79.09px;font-weight:400" fill="#000" stroke="#000" stroke-width="1.20" stroke-linejoin="round">c</text>
<text transform="translate(182.67 899.00) scale(0.9700 1)" style="font-size:46.40px;font-weight:700" fill="#000">1</text>
<text transform="translate(185.56 943.60) scale(0.9700 1)" style="font-size:48.46px;font-weight:700" fill="#000">2</text>
<text transform="translate(185.84 991.50) scale(0.9700 1)" style="font-size:48.31px;font-weight:700" fill="#000">3</text>
<line x1="219.40" y1="891.10" x2="289.20" y2="891.10" stroke="#8f8f8f" stroke-width="5.20" stroke-linecap="butt"/>
<line x1="219.40" y1="929.20" x2="289.20" y2="929.20" stroke="#4a4a4a" stroke-width="5.20" stroke-linecap="butt"/>
<line x1="219.40" y1="967.60" x2="289.20" y2="967.60" stroke="#808080" stroke-width="5.20" stroke-linecap="butt"/>
<text transform="translate(310.92 901.50) scale(1.0006 1)" style="font-size:39.50px;font-weight:700" fill="#000" stroke="#000" stroke-width="0.40" stroke-linejoin="round">27.5 mW cm</text>
<text transform="translate(311.51 939.60) scale(1.0081 1)" style="font-size:39.50px;font-weight:700" fill="#000" stroke="#000" stroke-width="0.40" stroke-linejoin="round">11.5 mW cm</text>
<text transform="translate(331.51 979.00) scale(1.0077 1)" style="font-size:39.50px;font-weight:700" fill="#000" stroke="#000" stroke-width="0.40" stroke-linejoin="round">7.8 mW cm</text>
<text transform="translate(540.27 888.95) scale(0.9121 1)" style="font-size:24.23px;font-weight:700" fill="#000" stroke="#000" stroke-width="0.30" stroke-linejoin="round">-2</text>
<text transform="translate(540.27 927.05) scale(0.9121 1)" style="font-size:24.23px;font-weight:700" fill="#000" stroke="#000" stroke-width="0.30" stroke-linejoin="round">-2</text>
<text transform="translate(540.27 966.45) scale(0.9121 1)" style="font-size:24.23px;font-weight:700" fill="#000" stroke="#000" stroke-width="0.30" stroke-linejoin="round">-2</text>
<text transform="translate(615.34 971.00) scale(0.9851 1)" style="font-size:60.00px;font-weight:700" fill="#000">on</text>
<text transform="translate(714.03 972.20) scale(0.9866 1)" style="font-size:60.00px;font-weight:700" fill="#000">off</text>
<line x1="650.20" y1="984.30" x2="650.20" y2="1021.20" stroke="#0a0a0a" stroke-width="5.00" stroke-linecap="butt"/>
<polygon points="635.2,1013.7 650.2,1017.7 665.2,1013.7 650.2,1031.7" fill="#0a0a0a"/>
<line x1="753.70" y1="985.50" x2="753.70" y2="1022.90" stroke="#0a0a0a" stroke-width="5.00" stroke-linecap="butt"/>
<polygon points="738.7,1015.4 753.7,1019.4 768.7,1015.4 753.7,1033.4" fill="#0a0a0a"/>
<text transform="translate(684.87 1027.60) scale(0.9700 1)" style="font-size:47.27px;font-weight:700" fill="#000">1</text>
<text transform="translate(686.27 1134.00) scale(0.9700 1)" style="font-size:47.31px;font-weight:700" fill="#000">2</text>
<text transform="translate(686.31 1241.20) scale(0.9700 1)" style="font-size:48.03px;font-weight:700" fill="#000">3</text>
</g>
<g id="panel-d">
<line x1="1200.00" y1="847.80" x2="1211.00" y2="847.80" stroke="#0a0a0a" stroke-width="5.00" stroke-linecap="butt"/>
<line x1="1200.00" y1="979.40" x2="1211.00" y2="979.40" stroke="#0a0a0a" stroke-width="5.00" stroke-linecap="butt"/>
<line x1="1200.00" y1="1107.70" x2="1211.00" y2="1107.70" stroke="#0a0a0a" stroke-width="5.00" stroke-linecap="butt"/>
<line x1="1200.00" y1="1237.50" x2="1211.00" y2="1237.50" stroke="#0a0a0a" stroke-width="5.00" stroke-linecap="butt"/>
<line x1="1200.00" y1="1368.80" x2="1211.00" y2="1368.80" stroke="#0a0a0a" stroke-width="5.00" stroke-linecap="butt"/>
<line x1="1200.00" y1="1497.00" x2="1211.00" y2="1497.00" stroke="#0a0a0a" stroke-width="5.00" stroke-linecap="butt"/>
<line x1="1205.50" y1="916.00" x2="1211.00" y2="916.00" stroke="#0a0a0a" stroke-width="4.50" stroke-linecap="butt"/>
<line x1="1205.50" y1="1045.00" x2="1211.00" y2="1045.00" stroke="#0a0a0a" stroke-width="4.50" stroke-linecap="butt"/>
<line x1="1205.50" y1="1173.80" x2="1211.00" y2="1173.80" stroke="#0a0a0a" stroke-width="4.50" stroke-linecap="butt"/>
<line x1="1205.50" y1="1304.00" x2="1211.00" y2="1304.00" stroke="#0a0a0a" stroke-width="4.50" stroke-linecap="butt"/>
<line x1="1205.50" y1="1434.00" x2="1211.00" y2="1434.00" stroke="#0a0a0a" stroke-width="4.50" stroke-linecap="butt"/>
<line x1="1342.70" y1="1497.30" x2="1342.70" y2="1510.70" stroke="#0a0a0a" stroke-width="5.50" stroke-linecap="butt"/>
<line x1="1491.60" y1="1497.30" x2="1491.60" y2="1510.70" stroke="#0a0a0a" stroke-width="5.50" stroke-linecap="butt"/>
<line x1="1639.00" y1="1497.30" x2="1639.00" y2="1510.70" stroke="#0a0a0a" stroke-width="5.50" stroke-linecap="butt"/>
<line x1="1787.50" y1="1497.30" x2="1787.50" y2="1510.70" stroke="#0a0a0a" stroke-width="5.50" stroke-linecap="butt"/>
<line x1="1934.30" y1="1497.30" x2="1934.30" y2="1510.70" stroke="#0a0a0a" stroke-width="5.50" stroke-linecap="butt"/>
<line x1="2083.40" y1="1497.30" x2="2083.40" y2="1511.00" stroke="#0a0a0a" stroke-width="6.80" stroke-linecap="butt"/>
<line x1="1269.50" y1="1497.30" x2="1269.50" y2="1506.00" stroke="#0a0a0a" stroke-width="5.00" stroke-linecap="butt"/>
<line x1="1418.00" y1="1497.30" x2="1418.00" y2="1506.00" stroke="#0a0a0a" stroke-width="5.00" stroke-linecap="butt"/>
<line x1="1565.00" y1="1497.30" x2="1565.00" y2="1506.00" stroke="#0a0a0a" stroke-width="5.00" stroke-linecap="butt"/>
<line x1="1714.00" y1="1497.30" x2="1714.00" y2="1506.00" stroke="#0a0a0a" stroke-width="5.00" stroke-linecap="butt"/>
<line x1="1861.00" y1="1497.30" x2="1861.00" y2="1506.00" stroke="#0a0a0a" stroke-width="5.00" stroke-linecap="butt"/>
<line x1="2009.20" y1="1497.30" x2="2009.20" y2="1506.00" stroke="#0a0a0a" stroke-width="5.00" stroke-linecap="butt"/>
<polyline transform="translate(0 -0.60)" points="1211.0,1488.0 1499.6,1488.0 1500.2,1079.0 1502.5,1069.6 1509.0,1060.0 1520.3,1048.7 1532.0,1046.0 1544.4,1044.6 1560.0,1043.0 1576.6,1041.2 1583.0,1041.5 1589.8,1040.0 1594.0,1041.9 1599.7,1039.9 1607.5,1041.7 1614.7,1040.0 1622.1,1039.9 1629.6,1041.2 1634.9,1041.5 1642.6,1040.6 1647.1,1041.4 1652.1,1040.1 1656.7,1039.9 1661.6,1040.7 1666.8,1042.1 1671.9,1041.3 1676.6,1040.8 1680.7,1040.5 1684.8,1042.0 1691.0,1040.3 1696.9,1042.7 1701.3,1042.3 1707.0,1041.3 1714.4,1041.0 1721.0,1038.5 1724.0,1034.0 1726.0,1049.0 1729.0,1043.0 1735.4,1041.9 1743.3,1040.8 1750.7,1042.0 1757.2,1041.0 1762.6,1039.9 1767.1,1039.9 1774.1,1040.5 1778.7,1040.0 1786.1,1042.5 1792.6,1042.5 1793.6,1488.0 2083.4,1488.0" fill="none" stroke="#8a8a8a" stroke-width="5.70" stroke-linejoin="round" stroke-linecap="butt"/>
<polyline transform="translate(0 0.60)" points="1211.0,1488.0 1499.6,1488.0 1500.2,1079.0 1502.5,1069.6 1509.0,1060.0 1520.3,1048.7 1532.0,1046.0 1544.4,1044.6 1560.0,1043.0 1576.6,1041.2 1583.0,1041.5 1589.8,1040.0 1594.0,1041.9 1599.7,1039.9 1607.5,1041.7 1614.7,1040.0 1622.1,1039.9 1629.6,1041.2 1634.9,1041.5 1642.6,1040.6 1647.1,1041.4 1652.1,1040.1 1656.7,1039.9 1661.6,1040.7 1666.8,1042.1 1671.9,1041.3 1676.6,1040.8 1680.7,1040.5 1684.8,1042.0 1691.0,1040.3 1696.9,1042.7 1701.3,1042.3 1707.0,1041.3 1714.4,1041.0 1721.0,1038.5 1724.0,1034.0 1726.0,1049.0 1729.0,1043.0 1735.4,1041.9 1743.3,1040.8 1750.7,1042.0 1757.2,1041.0 1762.6,1039.9 1767.1,1039.9 1774.1,1040.5 1778.7,1040.0 1786.1,1042.5 1792.6,1042.5 1793.6,1488.0 2083.4,1488.0" fill="none" stroke="#8a8a8a" stroke-width="5.70" stroke-linejoin="round" stroke-linecap="butt"/>
<line x1="1207.60" y1="847.80" x2="2086.80" y2="847.80" stroke="#000" stroke-width="6.80" stroke-linecap="butt"/>
<line x1="1207.60" y1="1497.30" x2="2086.80" y2="1497.30" stroke="#000" stroke-width="5.20" stroke-linecap="butt"/>
<line x1="1211.00" y1="844.40" x2="1211.00" y2="1499.90" stroke="#000" stroke-width="6.80" stroke-linecap="butt"/>
<line x1="2083.40" y1="844.40" x2="2083.40" y2="1499.90" stroke="#000" stroke-width="6.80" stroke-linecap="butt"/>
<text transform="translate(1133.87 877.00) scale(0.9500 1)" style="font-size:48.00px;font-weight:700" fill="#000">2.5</text>
<text transform="translate(1134.44 992.10) scale(0.9500 1)" style="font-size:48.00px;font-weight:700" fill="#000">2.0</text>
<text transform="translate(1133.87 1118.50) scale(0.9500 1)" style="font-size:48.00px;font-weight:700" fill="#000">1.5</text>
<text transform="translate(1134.44 1246.00) scale(0.9500 1)" style="font-size:48.00px;font-weight:700" fill="#000">1.0</text>
<text transform="translate(1133.87 1376.90) scale(0.9500 1)" style="font-size:48.00px;font-weight:700" fill="#000">0.5</text>
<text transform="translate(1172.52 1504.00) scale(0.9500 1)" style="font-size:48.00px;font-weight:700" fill="#000">0</text>
<text transform="translate(1195.35 1550.10) scale(0.9500 1)" style="font-size:48.00px;font-weight:700" fill="#000">0</text>
<text transform="translate(1313.78 1550.10) scale(0.9500 1)" style="font-size:48.00px;font-weight:700" fill="#000">10</text>
<text transform="translate(1469.01 1550.10) scale(0.9500 1)" style="font-size:48.00px;font-weight:700" fill="#000">20</text>
<text transform="translate(1611.89 1550.10) scale(0.9500 1)" style="font-size:48.00px;font-weight:700" fill="#000">30</text>
<text transform="translate(1766.86 1550.10) scale(0.9500 1)" style="font-size:48.00px;font-weight:700" fill="#000">40</text>
<text transform="translate(1910.22 1550.10) scale(0.9500 1)" style="font-size:48.00px;font-weight:700" fill="#000">50</text>
<text transform="translate(2039.25 1550.10) scale(0.9500 1)" style="font-size:48.00px;font-weight:700" fill="#000">60</text>
<text transform="translate(1530.91 1604.00) scale(1.0236 1)" style="font-size:58.00px;font-weight:700" fill="#000">Time / s</text>
<text transform="translate(1114.80 1342.32) rotate(-90) scale(1.0010 1)" style="font-size:58.00px;font-weight:700" fill="#000">Current / nA</text>
<text transform="translate(1063.08 895.56) scale(0.9922 1)" style="font-size:83.54px;font-weight:400" fill="#000" stroke="#000" stroke-width="1.20" stroke-linejoin="round">d</text>
<line x1="1258.60" y1="895.10" x2="1333.20" y2="895.10" stroke="#8f8f8f" stroke-width="5.20" stroke-linecap="butt"/>
<text transform="translate(1356.11 908.40) scale(0.9912 1)" style="font-size:40.00px;font-weight:700" fill="#000" stroke="#000" stroke-width="0.40" stroke-linejoin="round">27.5 mW cm</text>
<text transform="translate(1586.92 895.85) scale(0.8714 1)" style="font-size:23.94px;font-weight:700" fill="#000" stroke="#000" stroke-width="0.30" stroke-linejoin="round">-2</text>
<text transform="translate(1606.04 908.40) scale(0.9843 1)" style="font-size:40.00px;font-weight:700" fill="#000" stroke="#000" stroke-width="0.40" stroke-linejoin="round">, λ = 420 nm</text>
<text transform="translate(1604.60 1008.30) scale(1.0360 1)" style="font-size:58.00px;font-weight:700" fill="#000">on</text>
<text transform="translate(1311.17 1449.70) scale(1.0470 1)" style="font-size:58.00px;font-weight:700" fill="#000">off</text>
<text transform="translate(1885.05 1449.70) scale(1.0567 1)" style="font-size:58.00px;font-weight:700" fill="#000">off</text>
<text transform="translate(1229.73 1165.34) scale(0.9166 1)" style="font-size:60.76px;font-weight:700;font-style:italic" fill="#000">t</text>
<text transform="translate(1245.28 1185.90) scale(1.1559 1)" style="font-size:33.49px;font-weight:700" fill="#000">r</text>
<text transform="translate(1259.20 1165.40) scale(1.0169 1)" style="font-size:58.00px;font-weight:400" fill="#000" stroke="#000" stroke-width="2.00" stroke-linejoin="round">=0.120 s</text>
<text transform="translate(1818.46 1166.44) scale(0.8998 1)" style="font-size:61.21px;font-weight:700;font-style:italic" fill="#000">t</text>
<text transform="translate(1835.16 1186.20) scale(0.8810 1)" style="font-size:35.03px;font-weight:700" fill="#000">f</text>
<text transform="translate(1845.91 1166.70) scale(1.0119 1)" style="font-size:58.00px;font-weight:400" fill="#000" stroke="#000" stroke-width="2.00" stroke-linejoin="round">=0.086s</text>
</g>
</g>
</svg>
</body>
</html>
